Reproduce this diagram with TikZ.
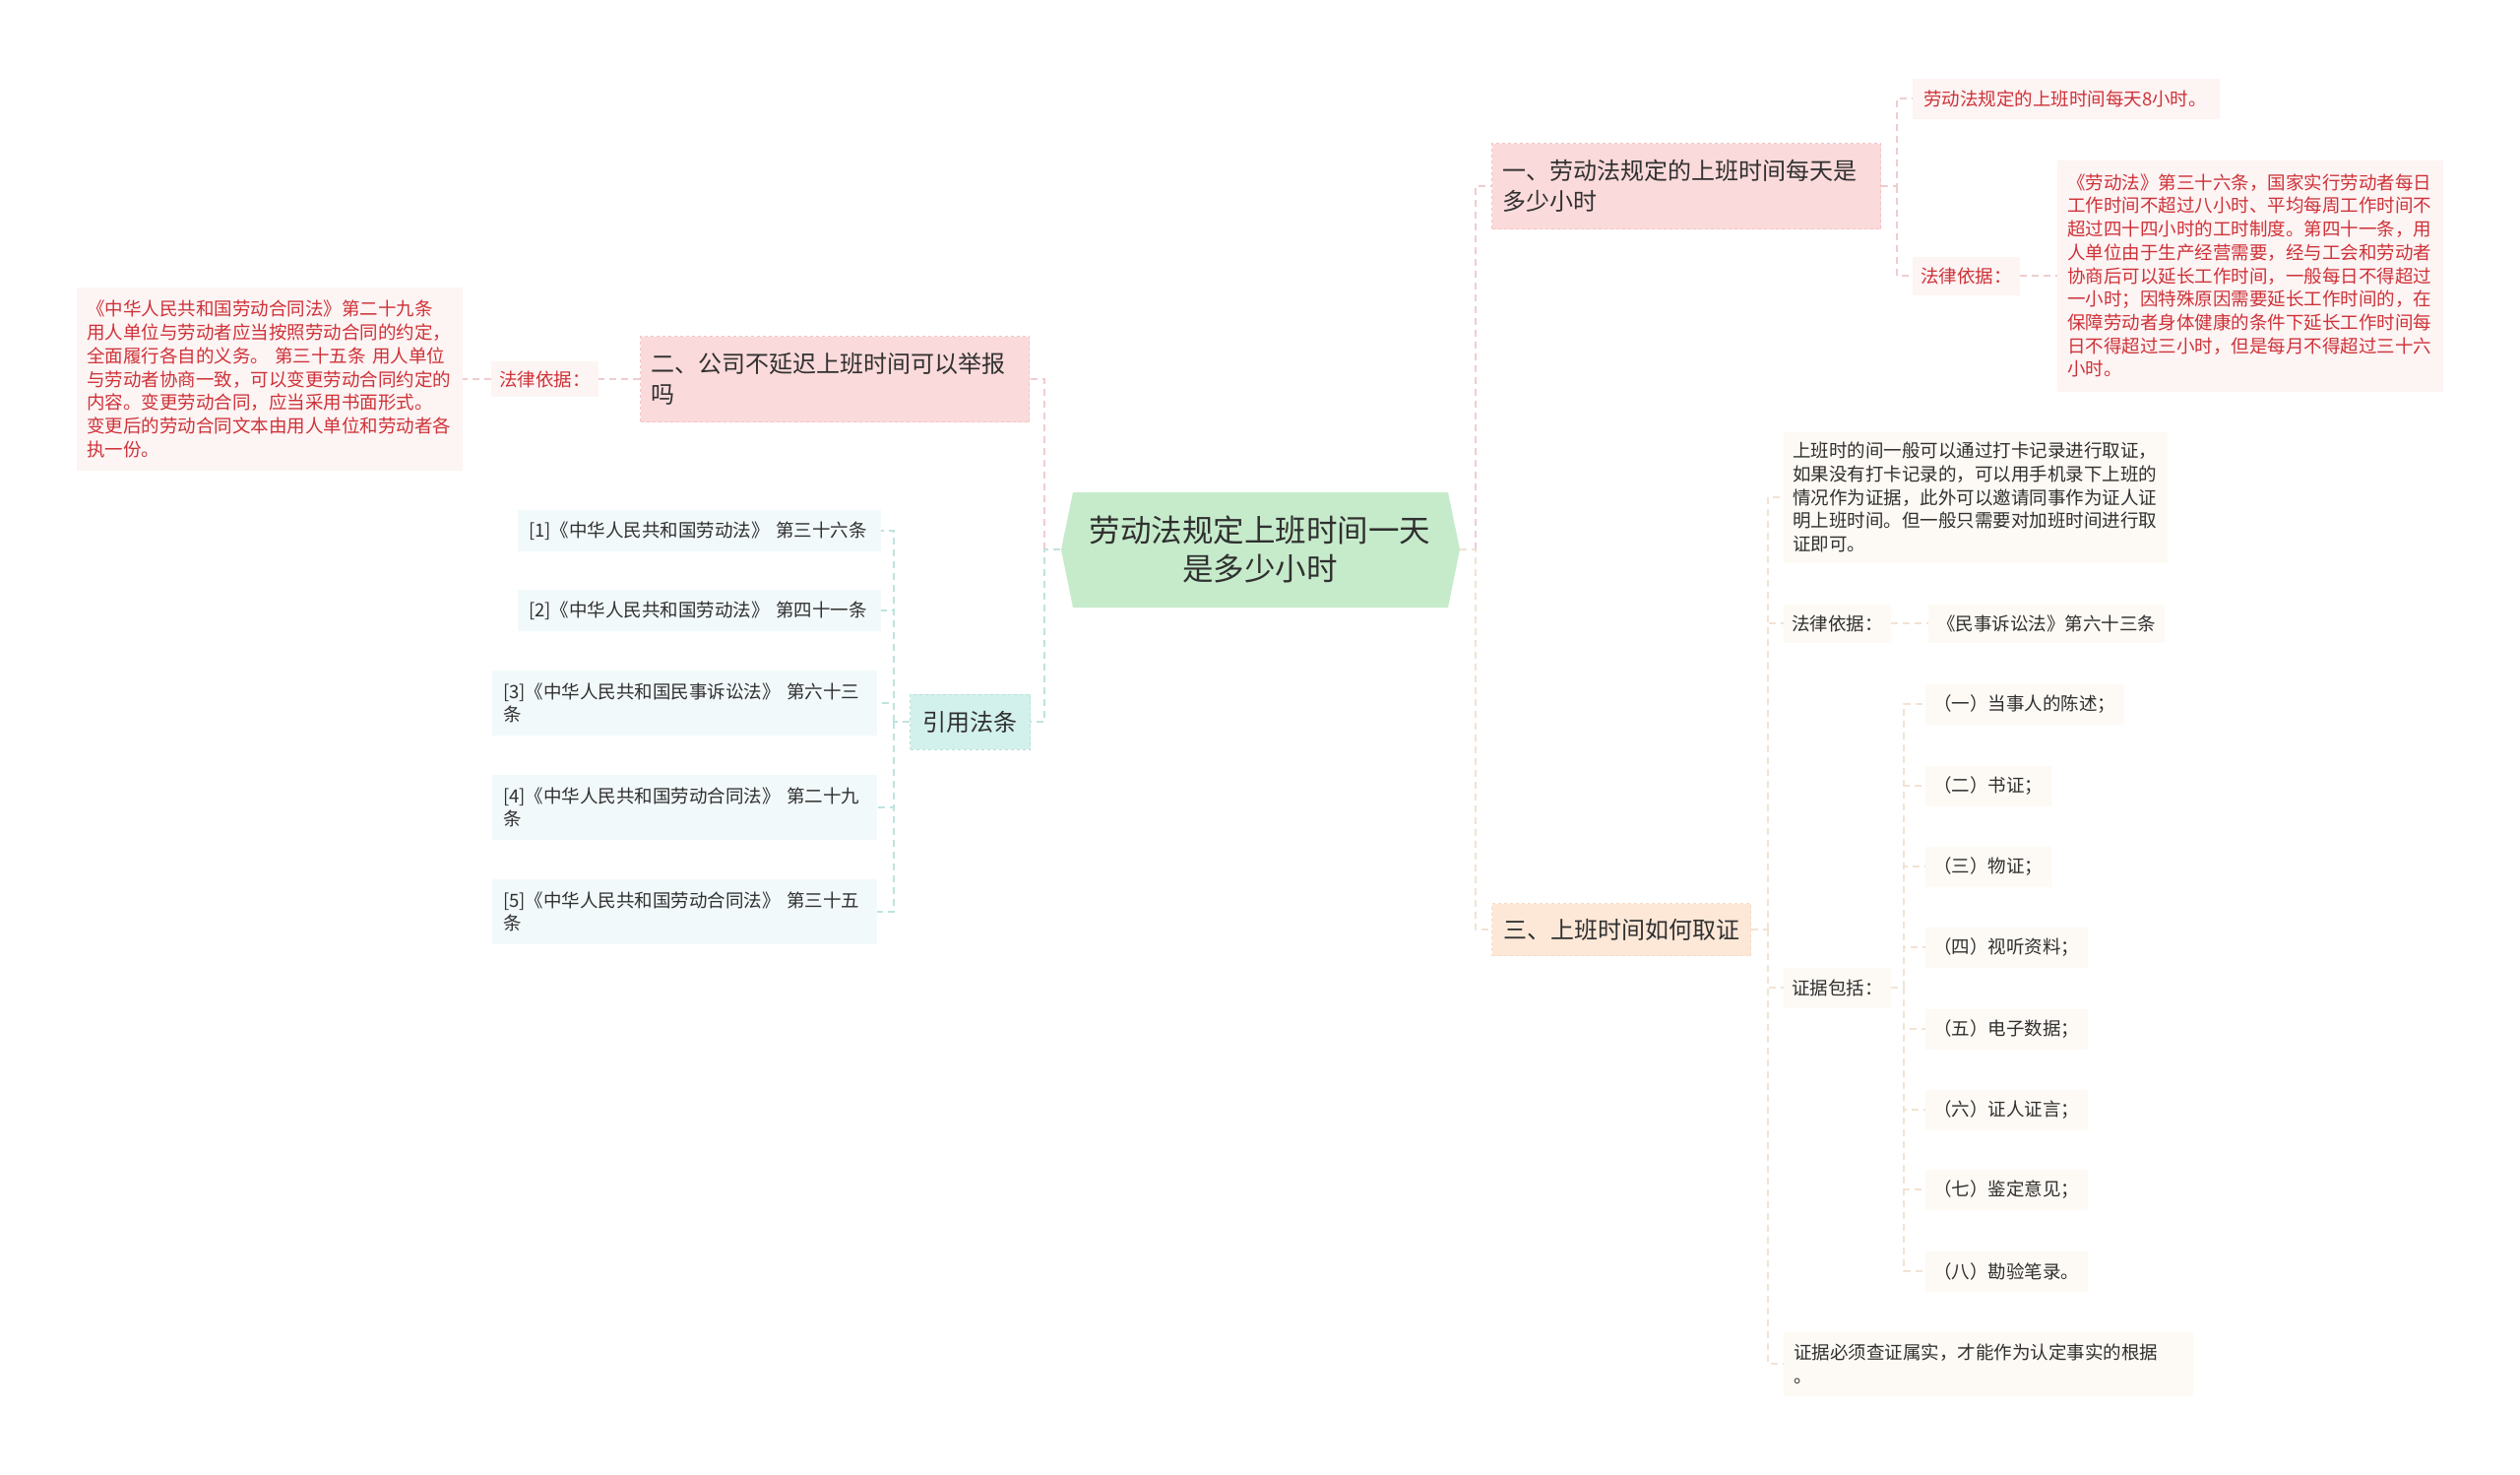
\documentclass[tikz,border=0pt]{standalone}
\usepackage{fontspec}
\setmainfont{Noto Sans CJK SC}
\definecolor{cgreen}{HTML}{C6EBCB}
\definecolor{cpink}{HTML}{FBDADB}
\definecolor{cpinkb}{HTML}{F3C4C6}
\definecolor{cred}{HTML}{CE3238}
\definecolor{credleaf}{HTML}{FDF4F4}
\definecolor{cteal}{HTML}{D2F0EC}
\definecolor{ctealb}{HTML}{B5E1DA}
\definecolor{cblueleaf}{HTML}{F2F9FA}
\definecolor{cpeach}{HTML}{FDE8D8}
\definecolor{cpeachb}{HTML}{F8DBC4}
\definecolor{cpeachleaf}{HTML}{FDF9F4}
\definecolor{ctext}{HTML}{303030}
\definecolor{lpink}{HTML}{EFCDCF}
\definecolor{lteal}{HTML}{BFE3DE}
\definecolor{lpeach}{HTML}{F2E3D3}
\begin{document}
\begin{tikzpicture}[x=1pt,y=-1pt,
  box/.style={anchor=west, inner ysep=0pt, align=left, text=ctext},
  fbig/.style={font=\fontsize{24}{31}\selectfont},
  fsmall/.style={font=\fontsize{18.5}{23.7}\selectfont},
  pinkbr/.style={box, fbig, fill=cpink, draw=cpinkb, dashed, line width=1pt, inner xsep=11pt},
  tealbr/.style={box, fbig, fill=cteal, draw=ctealb, dashed, line width=1pt, inner xsep=13pt},
  peachbr/.style={box, fbig, fill=cpeach, draw=cpeachb, dashed, line width=1pt, inner xsep=11.5pt},
  redleaf/.style={box, fsmall, fill=credleaf, text=cred},
  blueleaf/.style={box, fsmall, fill=cblueleaf},
  peachleaf/.style={box, fsmall, fill=cpeachleaf},
  conn/.style={line width=1.5pt, dash pattern=on 7pt off 5pt},
  pinkline/.style={conn, draw=lpink},
  tealline/.style={conn, draw=lteal},
  peachline/.style={conn, draw=lpeach}
]
\useasboundingbox (0,0) rectangle (2560,1497);
\fill[white] (0,0) rectangle (2560,1497);

% root
\fill[cgreen] (1090,500) -- (1471,500) -- (1483,558) -- (1471,617) -- (1090,617) -- (1078,558) -- cycle;
\node[minimum width=405pt, minimum height=117pt, inner sep=0pt, align=center, text=ctext, font=\fontsize{31.5}{39}\selectfont] (root) at (1280,558) {劳动法规定上班时间一天\\是多少小时};

% left: branch 2
\node[pinkbr, text width=373pt, minimum height=87pt] (b2) at (650,385) {二、公司不延迟上班时间可以举报\\吗};
\node[redleaf, inner xsep=8pt, text width=93pt, minimum height=36pt] (b2law) at (499,385) {法律依据：};
\node[redleaf, inner xsep=10pt, text width=372pt, minimum height=186pt] (b2txt) at (78,385) {《中华人民共和国劳动合同法》第二十九条\\用人单位与劳动者应当按照劳动合同的约定，\\全面履行各自的义务。 第三十五条 用人单位\\与劳动者协商一致，可以变更劳动合同约定的\\内容。变更劳动合同，应当采用书面形式。\\变更后的劳动合同文本由用人单位和劳动者各\\执一份。};

% left: cited laws
\node[tealbr, text width=96pt, minimum height=56pt] (ref) at (924,733) {引用法条};
\node[blueleaf, inner xsep=11pt, text width=347pt, minimum height=42pt] (r1) at (526,539) {[1]《中华人民共和国劳动法》 第三十六条};
\node[blueleaf, inner xsep=11pt, text width=347pt, minimum height=42pt] (r2) at (526,620) {[2]《中华人民共和国劳动法》 第四十一条};
\node[blueleaf, inner xsep=11pt, text width=369pt, minimum height=66pt] (r3) at (500,714) {[3]《中华人民共和国民事诉讼法》 第六十三\\条};
\node[blueleaf, inner xsep=11pt, text width=369pt, minimum height=66pt] (r4) at (500,820) {[4]《中华人民共和国劳动合同法》 第二十九\\条};
\node[blueleaf, inner xsep=11pt, text width=369pt, minimum height=66pt] (r5) at (500,926) {[5]《中华人民共和国劳动合同法》 第三十五\\条};

% right: branch 1
\node[pinkbr, text width=373pt, minimum height=87pt] (b1) at (1515,189) {一、劳动法规定的上班时间每天是\\多少小时};
\node[redleaf, inner xsep=11pt, text width=290pt, minimum height=41pt] (b1a) at (1943,100) {劳动法规定的上班时间每天8小时。};
\node[redleaf, inner xsep=8pt, text width=93pt, minimum height=39pt] (b1law) at (1943,280) {法律依据：};
\node[redleaf, inner xsep=10pt, text width=372pt, minimum height=235pt] (b1txt) at (2090,280) {《劳动法》第三十六条，国家实行劳动者每日\\工作时间不超过八小时、平均每周工作时间不\\超过四十四小时的工时制度。第四十一条，用\\人单位由于生产经营需要，经与工会和劳动者\\协商后可以延长工作时间，一般每日不得超过\\一小时；因特殊原因需要延长工作时间的，在\\保障劳动者身体健康的条件下延长工作时间每\\日不得超过三小时，但是每月不得超过三十六\\小时。};

% right: branch 3
\node[peachbr, text width=240pt, minimum height=53pt] (b3) at (1515,944) {三、上班时间如何取证};
\node[peachleaf, inner xsep=9pt, text width=372pt, minimum height=133pt] (c1) at (1812,505) {上班时的间一般可以通过打卡记录进行取证，\\如果没有打卡记录的，可以用手机录下上班的\\情况作为证据，此外可以邀请同事作为证人证\\明上班时间。但一般只需要对加班时间进行取\\证即可。};
\node[peachleaf, inner xsep=8pt, text width=93pt, minimum height=39pt] (c2) at (1812,633) {法律依据：};
\node[peachleaf, inner xsep=9pt, text width=222pt, minimum height=39pt] (c2a) at (1959,633) {《民事诉讼法》第六十三条};
\node[peachleaf, inner xsep=8pt, text width=93pt, minimum height=41pt] (c3) at (1812,1003) {证据包括：};
\node[peachleaf, inner xsep=8pt, text width=186pt, minimum height=41pt] (e1) at (1956,715) {（一）当事人的陈述；};
\node[peachleaf, inner xsep=8pt, text width=112pt, minimum height=41pt] (e2) at (1956,798) {（二）书证；};
\node[peachleaf, inner xsep=8pt, text width=112pt, minimum height=41pt] (e3) at (1956,880) {（三）物证；};
\node[peachleaf, inner xsep=8pt, text width=149pt, minimum height=41pt] (e4) at (1956,962) {（四）视听资料；};
\node[peachleaf, inner xsep=8pt, text width=149pt, minimum height=41pt] (e5) at (1956,1045) {（五）电子数据；};
\node[peachleaf, inner xsep=8pt, text width=149pt, minimum height=41pt] (e6) at (1956,1127) {（六）证人证言；};
\node[peachleaf, inner xsep=8pt, text width=149pt, minimum height=41pt] (e7) at (1956,1208) {（七）鉴定意见；};
\node[peachleaf, inner xsep=8pt, text width=149pt, minimum height=41pt] (e8) at (1956,1291) {（八）勘验笔录。};
\node[peachleaf, inner xsep=10pt, text width=396pt, minimum height=65pt] (c4) at (1812,1385) {证据必须查证属实，才能作为认定事实的根据\\。};

% junctions
\coordinate (jl) at (1061,558);
\coordinate (jref) at (908,733);
\coordinate (jr) at (1499,558);
\coordinate (j1) at (1927,189);
\coordinate (j3) at (1796,944);
\coordinate (j4) at (1934,1003);

% connectors left
\draw[tealline] (root.west) -- (jl) |- (ref.east);
\draw[pinkline] (jl) |- (b2.east);
\draw[pinkline] (b2.west) -- (b2law.east);
\draw[pinkline] (b2law.west) -- (b2txt.east);
\draw[tealline] (ref.west) -- (jref);
\foreach \n in {r1,r2,r3,r4,r5} \draw[tealline] (jref) |- (\n.east);

% connectors right
\draw[peachline] (root.east) -- (jr) |- (b3.west);
\draw[pinkline] (jr) |- (b1.west);
\draw[pinkline] (b1.east) -- (j1) |- (b1a.west);
\draw[pinkline] (j1) |- (b1law.west);
\draw[pinkline] (b1law.east) -- (b1txt.west);
\draw[peachline] (b3.east) -- (j3);
\foreach \n in {c1,c2,c3,c4} \draw[peachline] (j3) |- (\n.west);
\draw[peachline] (c2.east) -- (c2a.west);
\draw[peachline] (c3.east) -- (j4);
\foreach \n in {e1,e2,e3,e4,e5,e6,e7,e8} \draw[peachline] (j4) |- (\n.west);
\end{tikzpicture}
\end{document}
